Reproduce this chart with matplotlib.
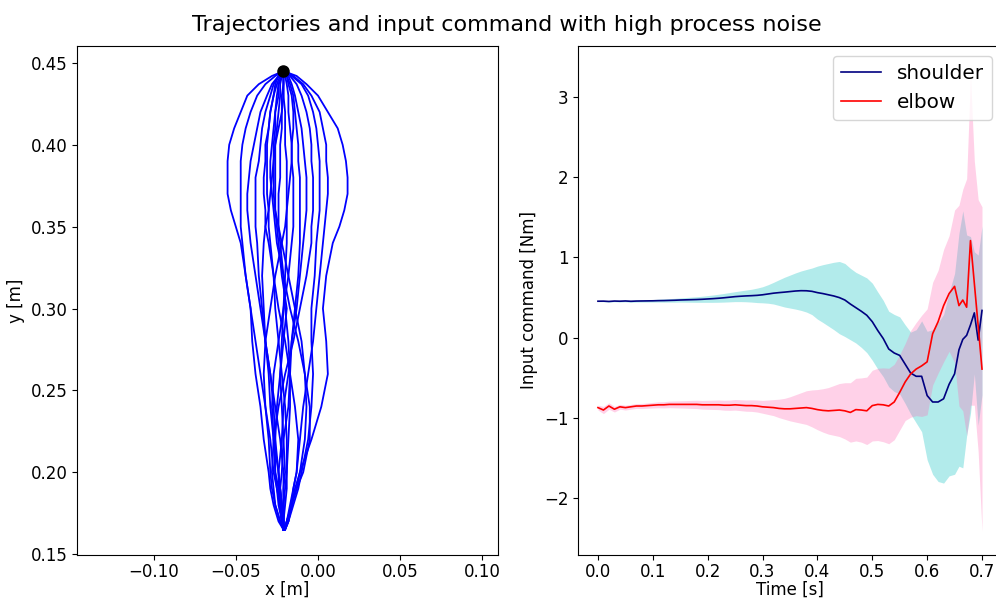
import matplotlib
matplotlib.use("Agg")
import matplotlib.pyplot as plt

plt.rcParams['font.size'] = 12
plt.rcParams['xtick.major.pad'] = 2.5

# ---- left panel: hand trajectories (x in m at fixed y levels) ----
y_levels = [0.445, 0.442, 0.437, 0.43, 0.42, 0.41, 0.40, 0.39, 0.38, 0.37, 0.36, 0.35,
            0.34, 0.32, 0.30, 0.28, 0.26, 0.24, 0.22, 0.20, 0.19, 0.18, 0.17, 0.165]

x_a = [-0.021, -0.028, -0.036, -0.043, -0.047, -0.051, -0.054, -0.055, -0.055, -0.055, -0.053, -0.050,
       -0.047, -0.044, -0.041, -0.040, -0.038, -0.035, -0.033, -0.030, -0.029, -0.027, -0.024, -0.021]
x_b = [-0.021, -0.013, -0.007, 0.000, 0.006, 0.012, 0.015, 0.017, 0.018, 0.018, 0.016, 0.013,
       0.009, 0.005, 0.003, 0.005, 0.006, 0.002, -0.004, -0.011, -0.013, -0.016, -0.019, -0.021]
x_c = [-0.021, -0.026, -0.032, -0.037, -0.041, -0.044, -0.046, -0.047, -0.047, -0.047, -0.047, -0.047,
       -0.046, -0.044, -0.041, -0.038, -0.035, -0.032, -0.030, -0.029, -0.028, -0.026, -0.023, -0.021]
x_d = [-0.021, -0.024, -0.027, -0.029, -0.032, -0.034, -0.035, -0.036, -0.038, -0.038, -0.038, -0.038,
       -0.037, -0.036, -0.034, -0.032, -0.030, -0.029, -0.027, -0.026, -0.024, -0.023, -0.022, -0.021]
x_e = [-0.021, -0.023, -0.025, -0.027, -0.029, -0.030, -0.032, -0.032, -0.033, -0.033, -0.032, -0.032,
       -0.030, -0.027, -0.024, -0.020, -0.017, -0.014, -0.012, -0.013, -0.015, -0.017, -0.019, -0.020]
x_f = [-0.021, -0.022, -0.024, -0.025, -0.026, -0.027, -0.028, -0.029, -0.029, -0.028, -0.027, -0.026,
       -0.025, -0.021, -0.017, -0.012, -0.008, -0.005, -0.005, -0.009, -0.013, -0.016, -0.018, -0.020]
x_g = [-0.021, -0.024, -0.026, -0.027, -0.029, -0.030, -0.031, -0.031, -0.031, -0.031, -0.030, -0.030,
       -0.029, -0.027, -0.026, -0.024, -0.022, -0.020, -0.019, -0.019, -0.020, -0.021, -0.021, -0.021]
x_h = [-0.021, -0.022, -0.023, -0.023, -0.024, -0.025, -0.026, -0.026, -0.026, -0.026, -0.026, -0.025,
       -0.024, -0.022, -0.019, -0.021, -0.023, -0.025, -0.026, -0.024, -0.023, -0.022, -0.021, -0.021]
x_i = [-0.021, -0.021, -0.021, -0.022, -0.022, -0.022, -0.023, -0.023, -0.023, -0.024, -0.024, -0.024,
       -0.023, -0.021, -0.020, -0.018, -0.017, -0.018, -0.021, -0.022, -0.023, -0.022, -0.021, -0.021]
x_j = [-0.021, -0.021, -0.021, -0.021, -0.020, -0.020, -0.020, -0.019, -0.019, -0.019, -0.019, -0.019,
       -0.019, -0.020, -0.021, -0.022, -0.023, -0.022, -0.021, -0.020, -0.021, -0.021, -0.021, -0.021]
x_k = [-0.021, -0.020, -0.019, -0.018, -0.018, -0.017, -0.016, -0.016, -0.015, -0.015, -0.015, -0.015,
       -0.016, -0.018, -0.021, -0.024, -0.027, -0.028, -0.027, -0.024, -0.023, -0.022, -0.021, -0.021]
x_l = [-0.021, -0.019, -0.017, -0.015, -0.014, -0.013, -0.012, -0.012, -0.011, -0.011, -0.011, -0.011,
       -0.011, -0.012, -0.014, -0.016, -0.017, -0.017, -0.018, -0.019, -0.019, -0.020, -0.021, -0.021]
x_m = [-0.021, -0.018, -0.016, -0.014, -0.012, -0.010, -0.009, -0.008, -0.007, -0.007, -0.007, -0.008,
       -0.009, -0.011, -0.013, -0.016, -0.018, -0.021, -0.022, -0.024, -0.024, -0.023, -0.022, -0.021]
x_n = [-0.021, -0.017, -0.013, -0.010, -0.007, -0.005, -0.004, -0.004, -0.003, -0.003, -0.003, -0.004,
       -0.004, -0.007, -0.011, -0.015, -0.020, -0.024, -0.027, -0.028, -0.027, -0.026, -0.023, -0.021]
x_o = [-0.021, -0.016, -0.010, -0.006, -0.003, -0.001, 0.000, 0.001, 0.001, 0.001, 0.001, 0.000,
       -0.001, -0.002, -0.004, -0.004, -0.003, -0.004, -0.006, -0.010, -0.012, -0.015, -0.018, -0.020]
x_p = [-0.021, -0.015, -0.009, -0.004, 0.001, 0.003, 0.005, 0.005, 0.006, 0.006, 0.005, 0.004,
       0.003, 0.001, -0.001, -0.003, -0.006, -0.009, -0.011, -0.013, -0.015, -0.016, -0.018, -0.020]
x_q = [-0.021, -0.021, -0.021, -0.021, -0.022, -0.024, -0.026, -0.027, -0.028, -0.029, -0.030, -0.032,
       -0.033, -0.034, -0.033, -0.032, -0.029, -0.026, -0.023, -0.021, -0.021, -0.021, -0.021, -0.021]
x_r = [-0.021, -0.019, -0.018, -0.016, -0.015, -0.015, -0.016, -0.016, -0.017, -0.018, -0.019, -0.020,
       -0.022, -0.026, -0.029, -0.032, -0.033, -0.032, -0.029, -0.027, -0.025, -0.023, -0.022, -0.021]
x_s = [-0.021, -0.022, -0.024, -0.024, -0.026, -0.026, -0.027, -0.027, -0.027, -0.027, -0.026, -0.024,
       -0.022, -0.018, -0.014, -0.010, -0.008, -0.007, -0.008, -0.011, -0.014, -0.016, -0.019, -0.021]
x_t = [-0.021, -0.024, -0.028, -0.031, -0.035, -0.037, -0.039, -0.041, -0.042, -0.043, -0.043, -0.042,
       -0.041, -0.038, -0.035, -0.032, -0.029, -0.027, -0.026, -0.026, -0.025, -0.024, -0.022, -0.021]

start_point = (-0.021, 0.445)

# ---- right panel: input commands (mean and spread) ----
time = [0.00, 0.01, 0.02, 0.03, 0.04, 0.05, 0.06, 0.07, 0.08, 0.09,
        0.10, 0.11, 0.12, 0.13, 0.14, 0.15, 0.16, 0.17, 0.18, 0.19,
        0.20, 0.21, 0.22, 0.23, 0.24, 0.25, 0.26, 0.27, 0.28, 0.29,
        0.30, 0.31, 0.32, 0.33, 0.34, 0.35, 0.36, 0.37, 0.38, 0.39,
        0.40, 0.41, 0.42, 0.43, 0.44, 0.45, 0.46, 0.47, 0.48, 0.49,
        0.50, 0.51, 0.52, 0.53, 0.54, 0.55, 0.56, 0.57, 0.58, 0.59,
        0.60, 0.61, 0.62, 0.63, 0.64, 0.65, 0.658, 0.665, 0.672, 0.679,
        0.686, 0.693, 0.70]

shoulder_mean = [0.455, 0.456, 0.452, 0.457, 0.455, 0.458, 0.454, 0.457, 0.458, 0.459,
                 0.460, 0.462, 0.463, 0.465, 0.467, 0.470, 0.472, 0.474, 0.476, 0.479,
                 0.483, 0.487, 0.492, 0.498, 0.505, 0.512, 0.517, 0.521, 0.524, 0.528,
                 0.535, 0.545, 0.555, 0.562, 0.568, 0.575, 0.582, 0.586, 0.585, 0.578,
                 0.562, 0.550, 0.535, 0.520, 0.500, 0.470, 0.420, 0.375, 0.330, 0.280,
                 0.200, 0.090, -0.010, -0.140, -0.190, -0.220, -0.330, -0.440, -0.480, -0.480,
                 -0.720, -0.800, -0.800, -0.760, -0.580, -0.450, -0.150, -0.020, 0.030, 0.160,
                 0.310, -0.030, 0.340]

shoulder_sd = [0.005, 0.007, 0.008, 0.009, 0.010, 0.011, 0.012, 0.013, 0.014, 0.015,
               0.016, 0.018, 0.020, 0.022, 0.024, 0.026, 0.029, 0.032, 0.035, 0.038,
               0.042, 0.046, 0.050, 0.054, 0.058, 0.062, 0.067, 0.073, 0.080, 0.090,
               0.100, 0.115, 0.135, 0.160, 0.185, 0.205, 0.225, 0.245, 0.265, 0.290,
               0.330, 0.360, 0.390, 0.420, 0.450, 0.455, 0.445, 0.440, 0.450, 0.465,
               0.480, 0.480, 0.475, 0.470, 0.480, 0.480, 0.490, 0.510, 0.580, 0.690,
               0.800, 0.900, 0.990, 1.050, 1.140, 1.250, 1.450, 1.600, 1.250, 1.100,
               0.760, 1.060, 1.050]

elbow_mean = [-0.870, -0.900, -0.850, -0.890, -0.860, -0.870, -0.860, -0.850, -0.850, -0.845,
              -0.840, -0.835, -0.835, -0.830, -0.830, -0.830, -0.830, -0.830, -0.830, -0.835,
              -0.835, -0.835, -0.835, -0.840, -0.840, -0.835, -0.840, -0.845, -0.845, -0.850,
              -0.860, -0.865, -0.870, -0.880, -0.885, -0.885, -0.880, -0.875, -0.870, -0.880,
              -0.895, -0.905, -0.910, -0.905, -0.900, -0.910, -0.930, -0.895, -0.900, -0.910,
              -0.845, -0.830, -0.835, -0.850, -0.800, -0.680, -0.550, -0.450, -0.390, -0.350,
              -0.300, 0.050, 0.200, 0.400, 0.550, 0.640, 0.400, 0.470, 0.380, 1.210,
              0.680, 0.150, -0.390]

elbow_sd = [0.030, 0.045, 0.040, 0.035, 0.030, 0.030, 0.030, 0.030, 0.032, 0.033,
            0.035, 0.037, 0.039, 0.041, 0.043, 0.045, 0.047, 0.050, 0.052, 0.054,
            0.056, 0.058, 0.060, 0.062, 0.064, 0.066, 0.068, 0.070, 0.072, 0.075,
            0.080, 0.090, 0.100, 0.115, 0.130, 0.150, 0.170, 0.190, 0.210, 0.230,
            0.250, 0.270, 0.290, 0.310, 0.330, 0.350, 0.370, 0.390, 0.400, 0.420,
            0.440, 0.450, 0.460, 0.470, 0.470, 0.470, 0.480, 0.540, 0.580, 0.630,
            0.660, 0.640, 0.640, 0.700, 0.720, 0.950, 1.250, 1.380, 1.600, 2.050,
            1.520, 1.570, 2.020]

trajectories = [x_a, x_b, x_c, x_d, x_e, x_f, x_g, x_h, x_i, x_j,
                x_k, x_l, x_m, x_n, x_o, x_p, x_q, x_r, x_s, x_t]

fig = plt.figure(figsize=(9.96, 5.99), dpi=100)
ax1 = fig.add_axes([0.0773, 0.0735, 0.4227, 0.8497])
ax2 = fig.add_axes([0.5803, 0.0735, 0.4257, 0.8497])

for xs in trajectories:
    ax1.plot(xs, y_levels, color='blue', lw=1.3)
ax1.plot(start_point[0], start_point[1], 'o', color='black', markersize=8)
ax1.set_xlim(-0.1466, 0.1095)
ax1.set_ylim(0.1495, 0.4603)
ax1.set_xticks([-0.10, -0.05, 0.00, 0.05, 0.10])
ax1.set_xlabel('x [m]', labelpad=-0.5)
ax1.set_ylabel('y [m]')

sh_lo = [m - s for m, s in zip(shoulder_mean, shoulder_sd)]
sh_hi = [m + s for m, s in zip(shoulder_mean, shoulder_sd)]
el_lo = [m - s for m, s in zip(elbow_mean, elbow_sd)]
el_hi = [m + s for m, s in zip(elbow_mean, elbow_sd)]

ax2.fill_between(time, sh_lo, sh_hi, color='c', alpha=0.3, lw=0)
ax2.fill_between(time, el_lo, el_hi, color='hotpink', alpha=0.3, lw=0)
ax2.plot(time, shoulder_mean, color='navy', lw=1.2, label='shoulder')
ax2.plot(time, elbow_mean, color='red', lw=1.2, label='elbow')
ax2.set_xlim(-0.0364, 0.7364)
ax2.set_ylim(-2.705, 3.633)
ax2.set_xlabel('Time [s]', labelpad=-0.5)
ax2.set_ylabel('Input command [Nm]')
ax2.legend(loc='upper right', fontsize=14.4)

fig.text(0.5085, 0.958, 'Trajectories and input command with high process noise',
         ha='center', va='center', fontsize=16)

fig.savefig('out.png', dpi=100)
